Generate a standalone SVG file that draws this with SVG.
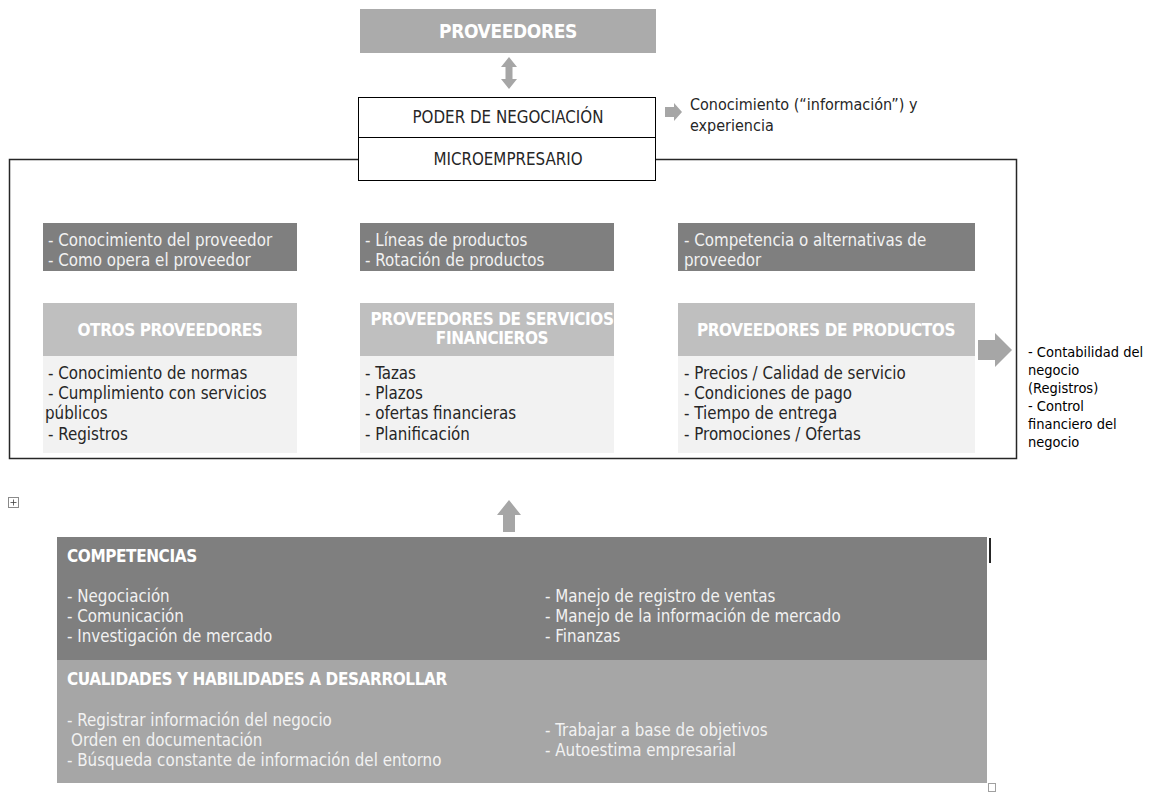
<svg xmlns="http://www.w3.org/2000/svg" width="1153" height="792" viewBox="0 0 1153 792">
<style>
.t{font-family:"Liberation Sans Narrow","DejaVu Sans Condensed","Liberation Sans",sans-serif;font-size:16.8px}
.w{fill:#f2f2f2}
.d{fill:#262626}
.h{font-family:"Liberation Sans Narrow","DejaVu Sans Condensed","Liberation Sans",sans-serif;font-size:17px;font-weight:bold;fill:#ffffff;letter-spacing:-0.4px}
.k{fill:#000000}
.dark{fill:#7f7f7f}
.mid{fill:#bfbfbf}
.light{fill:#f2f2f2}
.arr{fill:#a6a6a6}
</style>
<rect width="1153" height="792" fill="#ffffff"/>

<g id="outer">
<rect x="9.5" y="159.5" width="1007" height="299" fill="none" stroke="#262626" stroke-width="1.5"/>
</g>

<g id="proveedores">
<rect x="360" y="9" width="296" height="44" fill="#ababab"/>
<text class="h" x="508" y="38" text-anchor="middle" style="font-size:19px">PROVEEDORES</text>
</g>

<g id="poder">
<rect x="358.5" y="97.5" width="297" height="40" fill="#ffffff" stroke="#000" stroke-width="1"/>
<text class="t d" x="508" y="123" text-anchor="middle">PODER DE NEGOCIACIÓN</text>
</g>
<g id="micro">
<rect x="358.5" y="137.5" width="297" height="43" fill="#ffffff" stroke="#000" stroke-width="1"/>
<text class="t d" x="508" y="165" text-anchor="middle">MICROEMPRESARIO</text>
</g>

<g id="conocimiento">
<text class="t d" x="690" y="110" style="font-size:16px">Conocimiento (“información”) y</text>
<text class="t d" x="690" y="131" style="font-size:16px">experiencia</text>
</g>

<g id="box-a">
<rect x="43" y="223" width="254" height="48" class="dark"/>
<text class="t w" x="48" y="246">- Conocimiento del proveedor</text>
<text class="t w" x="48" y="266">- Como opera el proveedor</text>
</g>
<g id="box-b">
<rect x="360" y="223" width="254" height="48" class="dark"/>
<text class="t w" x="365" y="246">- Líneas de productos</text>
<text class="t w" x="365" y="266">- Rotación de productos</text>
</g>
<g id="box-c">
<rect x="678" y="223" width="297" height="48" class="dark"/>
<text class="t w" x="684" y="246">- Competencia o alternativas de</text>
<text class="t w" x="684" y="266">proveedor</text>
</g>

<g id="otros">
<rect x="43" y="303" width="254" height="53" class="mid"/>
<text class="h" x="170" y="336" text-anchor="middle">OTROS PROVEEDORES</text>
<rect x="43" y="356" width="254" height="97" class="light"/>
<text class="t d" x="48" y="379">- Conocimiento de normas</text>
<text class="t d" x="48" y="399">- Cumplimiento con servicios</text>
<text class="t d" x="45" y="419">públicos</text>
<text class="t d" x="48" y="440">- Registros</text>
</g>
<g id="financieros">
<rect x="360" y="303" width="254" height="53" class="mid"/>
<text class="h" x="492" y="325" text-anchor="middle">PROVEEDORES DE SERVICIOS</text>
<text class="h" x="492" y="344" text-anchor="middle">FINANCIEROS</text>
<rect x="360" y="356" width="254" height="97" class="light"/>
<text class="t d" x="365" y="379">- Tazas</text>
<text class="t d" x="365" y="399">- Plazos</text>
<text class="t d" x="365" y="419">- ofertas financieras</text>
<text class="t d" x="365" y="440">- Planificación</text>
</g>
<g id="productos">
<rect x="678" y="303" width="297" height="53" class="mid"/>
<text class="h" x="826" y="336" text-anchor="middle">PROVEEDORES DE PRODUCTOS</text>
<rect x="678" y="356" width="297" height="97" class="light"/>
<text class="t d" x="684" y="379">- Precios / Calidad de servicio</text>
<text class="t d" x="684" y="399">- Condiciones de pago</text>
<text class="t d" x="684" y="419">- Tiempo de entrega</text>
<text class="t d" x="684" y="440">- Promociones / Ofertas</text>
</g>

<g id="contabilidad">
<text class="t k" x="1028" y="357" style="font-size:14.5px">- Contabilidad del</text>
<text class="t k" x="1028" y="375" style="font-size:14.5px">negocio</text>
<text class="t k" x="1028" y="393" style="font-size:14.5px">(Registros)</text>
<text class="t k" x="1028" y="411" style="font-size:14.5px">- Control</text>
<text class="t k" x="1028" y="429" style="font-size:14.5px">financiero del</text>
<text class="t k" x="1028" y="447" style="font-size:14.5px">negocio</text>
</g>

<g id="competencias">
<rect x="57" y="537" width="930" height="123" class="dark"/>
<text class="h" x="67" y="562">COMPETENCIAS</text>
<text class="t w" x="67" y="602">- Negociación</text>
<text class="t w" x="67" y="622">- Comunicación</text>
<text class="t w" x="67" y="642">- Investigación de mercado</text>
<text class="t w" x="545" y="602">- Manejo de registro de ventas</text>
<text class="t w" x="545" y="622">- Manejo de la información de mercado</text>
<text class="t w" x="545" y="642">- Finanzas</text>
<rect x="989" y="538" width="2" height="25" fill="#262626"/>
</g>
<g id="cualidades">
<rect x="57" y="660" width="930" height="123" fill="#a6a6a6"/>
<text class="h" x="67" y="685">CUALIDADES Y HABILIDADES A DESARROLLAR</text>
<text class="t w" x="67" y="726">- Registrar información del negocio</text>
<text class="t w" x="71" y="746">Orden en documentación</text>
<text class="t w" x="67" y="766">- Búsqueda constante de información del entorno</text>
<text class="t w" x="545" y="736">- Trabajar a base de objetivos</text>
<text class="t w" x="545" y="756">- Autoestima empresarial</text>
</g>

<g id="handles">
<rect x="8.5" y="497.5" width="10" height="10" fill="#ffffff" stroke="#8a8a8a" stroke-width="1"/>
<path d="M13.5 499.5v6M10.5 502.5h6" stroke="#404040" stroke-width="0.8"/>
<rect x="988.5" y="783.5" width="7" height="8" fill="none" stroke="#a0a0a0" stroke-width="1"/>
</g>

<g id="connectors">
<path class="arr" d="M509 57 L517 67 L512.5 67 L512.5 79 L517 79 L509 89 L501 79 L505.5 79 L505.5 67 L501 67 Z"/>
<path class="arr" d="M665 107 L674 107 L674 103 L682 112 L674 121 L674 117 L665 117 Z"/>
<path class="arr" d="M978 340 L995 340 L995 333 L1012 350 L995 367 L995 360 L978 360 Z"/>
<path class="arr" d="M509 500 L521 515 L515 515 L515 532 L503 532 L503 515 L497 515 Z"/>
</g>
</svg>
